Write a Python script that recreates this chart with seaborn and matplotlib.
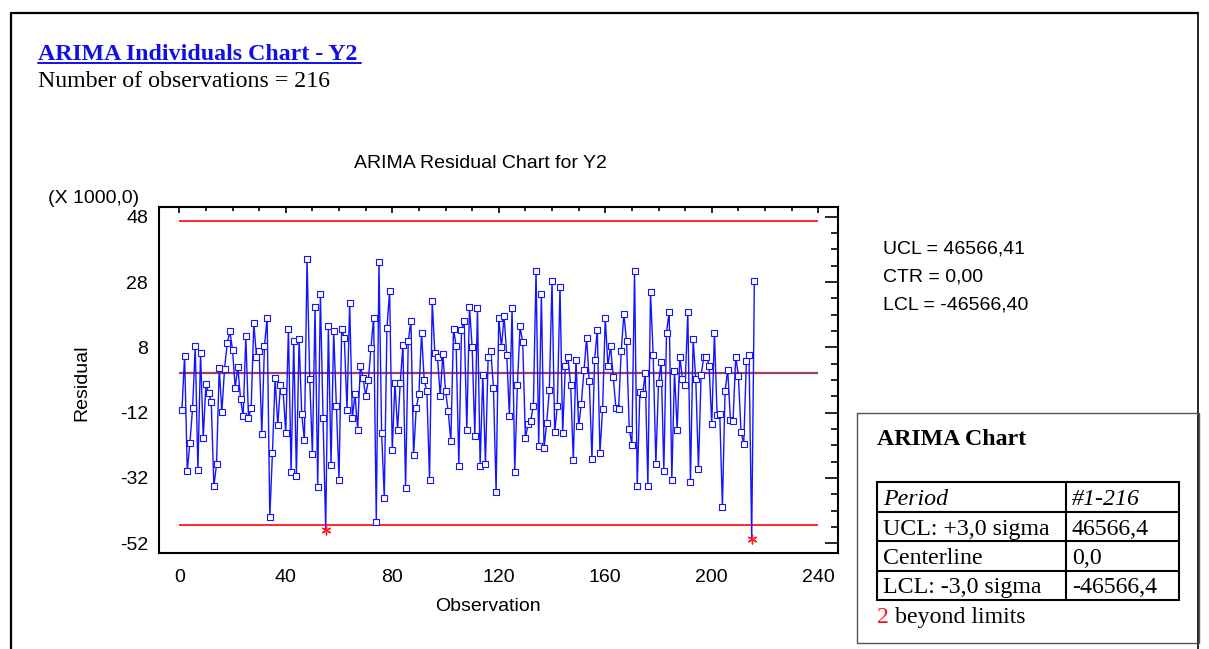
import numpy as np
import pandas as pd
import matplotlib
matplotlib.use("Agg")
import matplotlib.pyplot as plt
from matplotlib import font_manager
from matplotlib.ticker import FixedLocator
import seaborn as sns

# ---------------- data (residuals in thousands) ----------------
residuals_k = [
    -11.3, 5.5, -29.9, -21.2, -10.6, 8.4, -29.6, 6.4, -19.8, -3.3,
    -6.0, -8.6, -34.5, -27.8, 1.6, -11.7, 1.3, 9.2, 12.9, 7.3,
    -4.3, 2.0, -7.7, -13.1, 11.5, -13.7, -10.6, 15.4, 5.2, 7.0,
    -18.6, 8.5, 17.1, -44.0, -24.3, -1.5, -15.9, -3.6, -5.3, -18.3,
    13.7, -30.2, 9.8, -31.4, 10.5, -12.4, -20.5, 35.1, -1.8, -24.6,
    20.4, -34.8, 24.5, -13.7, -47.8, 14.4, -28.1, 12.9, -9.9, -32.5,
    13.6, 10.8, -11.3, 21.7, -13.7, -6.4, -17.3, 2.3, -1.3, -6.8,
    -2.1, 7.9, 17.1, -45.5, 34.1, -18.1, -38.1, 14.0, 25.3, -23.5,
    -2.9, -17.3, -2.9, 8.7, -35.2, 9.8, 16.2, -25.1, -10.6, -6.4,
    12.5, -2.1, -5.3, -32.7, 22.1, 6.3, 4.9, -7.0, 5.9, -5.3,
    -11.6, -20.8, 13.6, 8.4, -28.2, 13.3, 16.1, -17.2, 20.5, 8.0,
    -19.0, 20.0, -28.2, -0.4, -27.8, 4.9, 7.0, -4.3, -36.3, 17.1,
    8.0, 17.5, 5.6, -13.1, 20.0, -30.2, -3.6, 14.4, 9.5, -19.8,
    -15.6, -14.5, -9.9, 31.3, -22.2, 24.5, -22.9, -15.2, -5.0, 28.4,
    -18.0, -9.9, 26.6, -18.3, 2.4, 4.9, -3.6, -26.4, 4.2, -16.2,
    -9.2, 1.0, 10.9, -2.4, -26.1, 4.2, 13.3, -24.3, -10.9, 17.1,
    2.4, 8.4, -1.1, -10.6, -10.9, 7.0, 18.2, 9.8, -16.9, -21.8,
    31.3, -34.5, -5.7, -6.4, 0.0, -34.5, 24.9, 5.6, -27.8, -2.9,
    3.5, -29.9, 12.5, 18.9, -32.7, 0.7, -17.3, 5.2, -1.8, -3.6,
    18.9, -33.1, 10.5, -1.8, -29.2, -0.4, 4.9, 5.2, 2.4, -15.6,
    12.5, -12.7, -12.4, -40.8, -5.3, 1.0, -14.2, -14.5, 5.2, -0.7,
    -18.0, -21.5, 3.8, 5.6, -50.8, 28.4,
]
observations = list(range(1, len(residuals_k) + 1))

ucl_k = 46.56641
ctr_k = 0.0
lcl_k = -46.56640
limit_span = [0, 240]

x_major_ticks = [0, 40, 80, 120, 160, 200, 240]
x_minor_ticks = list(range(0, 241, 10))
y_major_ticks = [48, 28, 8, -12, -32, -52]
y_minor_ticks = list(range(-52, 49, 5))

main_title = "ARIMA Individuals Chart - Y2"
subtitle = "Number of observations = 216"
chart_title = "ARIMA Residual Chart for Y2"
scale_note = "(X 1000,0)"
x_label = "Observation"
y_label = "Residual"
stat_lines = ["UCL = 46566,41", "CTR = 0,00", "LCL = -46566,40"]
box_title = "ARIMA Chart"
table_rows = [("Period", "#1-216"), ("UCL: +3,0 sigma", "46566,4"),
              ("Centerline", "0,0"), ("LCL: -3,0 sigma", "-46566,4")]
beyond_count = "2"
beyond_text = " beyond limits"

# ---------------- style ----------------
sns.set_theme(style="white")
names = {f.name for f in font_manager.fontManager.ttflist}
if "Liberation Sans Narrow" in names:
    SANS = ["Liberation Sans Narrow", "DejaVu Sans"]
    SS = 16.3
else:
    SANS = ["Liberation Sans", "DejaVu Sans"]
    SS = 14.0
SERIF = ["Liberation Serif", "DejaVu Serif"]
TS = 17.2
plt.rcParams["font.family"] = SANS
plt.rcParams["axes.unicode_minus"] = False
for key in ("text.color", "axes.labelcolor", "xtick.color", "ytick.color"):
    plt.rcParams[key] = "black"

W, H = 1209, 649
fig = plt.figure(figsize=(W / 100, H / 100), dpi=100)
fig.patch.set_facecolor("white")

# main axes placement (pixels)
axL, axR, axT, axB = 159.3, 837.7, 207.0, 552.7
ax = fig.add_axes([axL / W, 1 - axB / H, (axR - axL) / W, (axB - axT) / H])

df = pd.DataFrame({"Observation": observations, "Residual": residuals_k})
df["out"] = (df["Residual"] > ucl_k) | (df["Residual"] < lcl_k)

# control limits
ax.hlines([ucl_k, lcl_k], limit_span[0], limit_span[1], colors="#ff2a2a", linewidth=1.4, zorder=2)
ax.hlines([ctr_k], limit_span[0], limit_span[1], colors="#9e3d5e", linewidth=1.6, zorder=2)

sns.lineplot(data=df, x="Observation", y="Residual", color="#1414ff", linewidth=1.0,
             ax=ax, zorder=3, legend=False)
sns.scatterplot(data=df[~df["out"]], x="Observation", y="Residual", marker="s", s=14,
                color="white", edgecolor="#1414ff", linewidth=0.8, ax=ax, zorder=4, legend=False)
sns.scatterplot(data=df[df["out"]], x="Observation", y="Residual", marker=(6, 2, 0), s=40,
                color="#ff2020", edgecolor="#ff2020", linewidth=1.0, ax=ax, zorder=5, legend=False)

ax.set_xlim(-7.5, 247.3)
ax.set_ylim(-54.9, 51.0)
ax.xaxis.set_major_locator(FixedLocator(x_major_ticks))
ax.xaxis.set_minor_locator(FixedLocator(x_minor_ticks))
ax.yaxis.set_major_locator(FixedLocator(y_major_ticks))
ax.yaxis.set_minor_locator(FixedLocator(y_minor_ticks))
ax.tick_params(which="both", direction="in", top=True, right=True, color="black", width=1.2)
ax.tick_params(axis="x", which="major", length=4.5, pad=12, labelsize=SS)
ax.tick_params(axis="x", which="minor", length=3.0)
ax.tick_params(axis="y", which="major", length=9.5, pad=8, labelsize=SS)
ax.tick_params(axis="y", which="minor", length=5.0)
for sp in ax.spines.values():
    sp.set_color("black")
    sp.set_linewidth(1.5)
ax.grid(False)

ax.set_xlabel(x_label, fontsize=SS)
ax.set_ylabel(y_label, fontsize=SS)
ax.xaxis.set_label_coords((488 - axL) / (axR - axL), -(598 - axB) / (axB - axT))
ax.yaxis.set_label_coords(-(axL - 90) / (axR - axL), (axB - 383) / (axB - axT))

# ---------------- overlay in pixel coordinates ----------------
ov = fig.add_axes([0, 0, 1, 1], zorder=10)
ov.set_xlim(0, W)
ov.set_ylim(H, 0)
ov.axis("off")

# page border
ov.plot([10.5, 10.5], [12.5, 649], color="black", lw=1.6)
ov.plot([10.5, 1198], [12.5, 12.5], color="black", lw=1.6)
ov.plot([1198, 1198], [12.5, 649], color="black", lw=1.2)

ov.text(38, 60, main_title, family=SERIF, fontsize=TS, fontweight="bold",
        color="#1010e6", ha="left", va="baseline")
ov.plot([38, 361], [63, 63], color="#1010e6", lw=1.4)
ov.text(38, 87, subtitle, family=SERIF, fontsize=TS, color="black", ha="left", va="baseline")

ov.text(480, 168, chart_title, family=SANS, fontsize=SS, ha="center", va="baseline")
ov.text(48, 203, scale_note, family=SANS, fontsize=SS, ha="left", va="baseline")

for txt, yb in zip(stat_lines, [253, 281.5, 310]):
    ov.text(883, yb, txt, family=SANS, fontsize=SS, ha="left", va="baseline")

# summary box
ov.plot([857, 1199, 1199, 857, 857], [413, 413, 643, 643, 413], color="#555555", lw=1.0)
ov.text(877, 445, box_title, family=SERIF, fontsize=TS, fontweight="bold", ha="left", va="baseline")
row_y = [482, 512, 541, 571, 600]
tx0, tx1, tx2 = 876.7, 1066, 1179
for yy in row_y:
    ov.plot([tx0, tx2], [yy, yy], color="black", lw=1.5)
for xx in (tx0, tx1, tx2):
    ov.plot([xx, xx], [row_y[0], row_y[-1]], color="black", lw=1.5)
baselines = [505, 535, 564, 593.3]
for i, ((a, b), yb) in enumerate(zip(table_rows, baselines)):
    style = "italic" if i == 0 else "normal"
    ov.text(882.7, yb, a, family=SERIF, fontsize=TS, fontstyle=style, ha="left", va="baseline")
    ov.text(1071.7, yb, b, family=SERIF, fontsize=TS, fontstyle=style, ha="left", va="baseline")
t2 = ov.text(877, 622.7, beyond_count, family=SERIF, fontsize=TS, color="#ff1a1a",
             ha="left", va="baseline")
fig.canvas.draw()
bb = t2.get_window_extent()
x_after = ov.transData.inverted().transform((bb.x1, bb.y0))[0]
ov.text(x_after, 622.7, beyond_text, family=SERIF, fontsize=TS, color="black",
        ha="left", va="baseline")

fig.savefig("out.png", dpi=100, facecolor="white")
